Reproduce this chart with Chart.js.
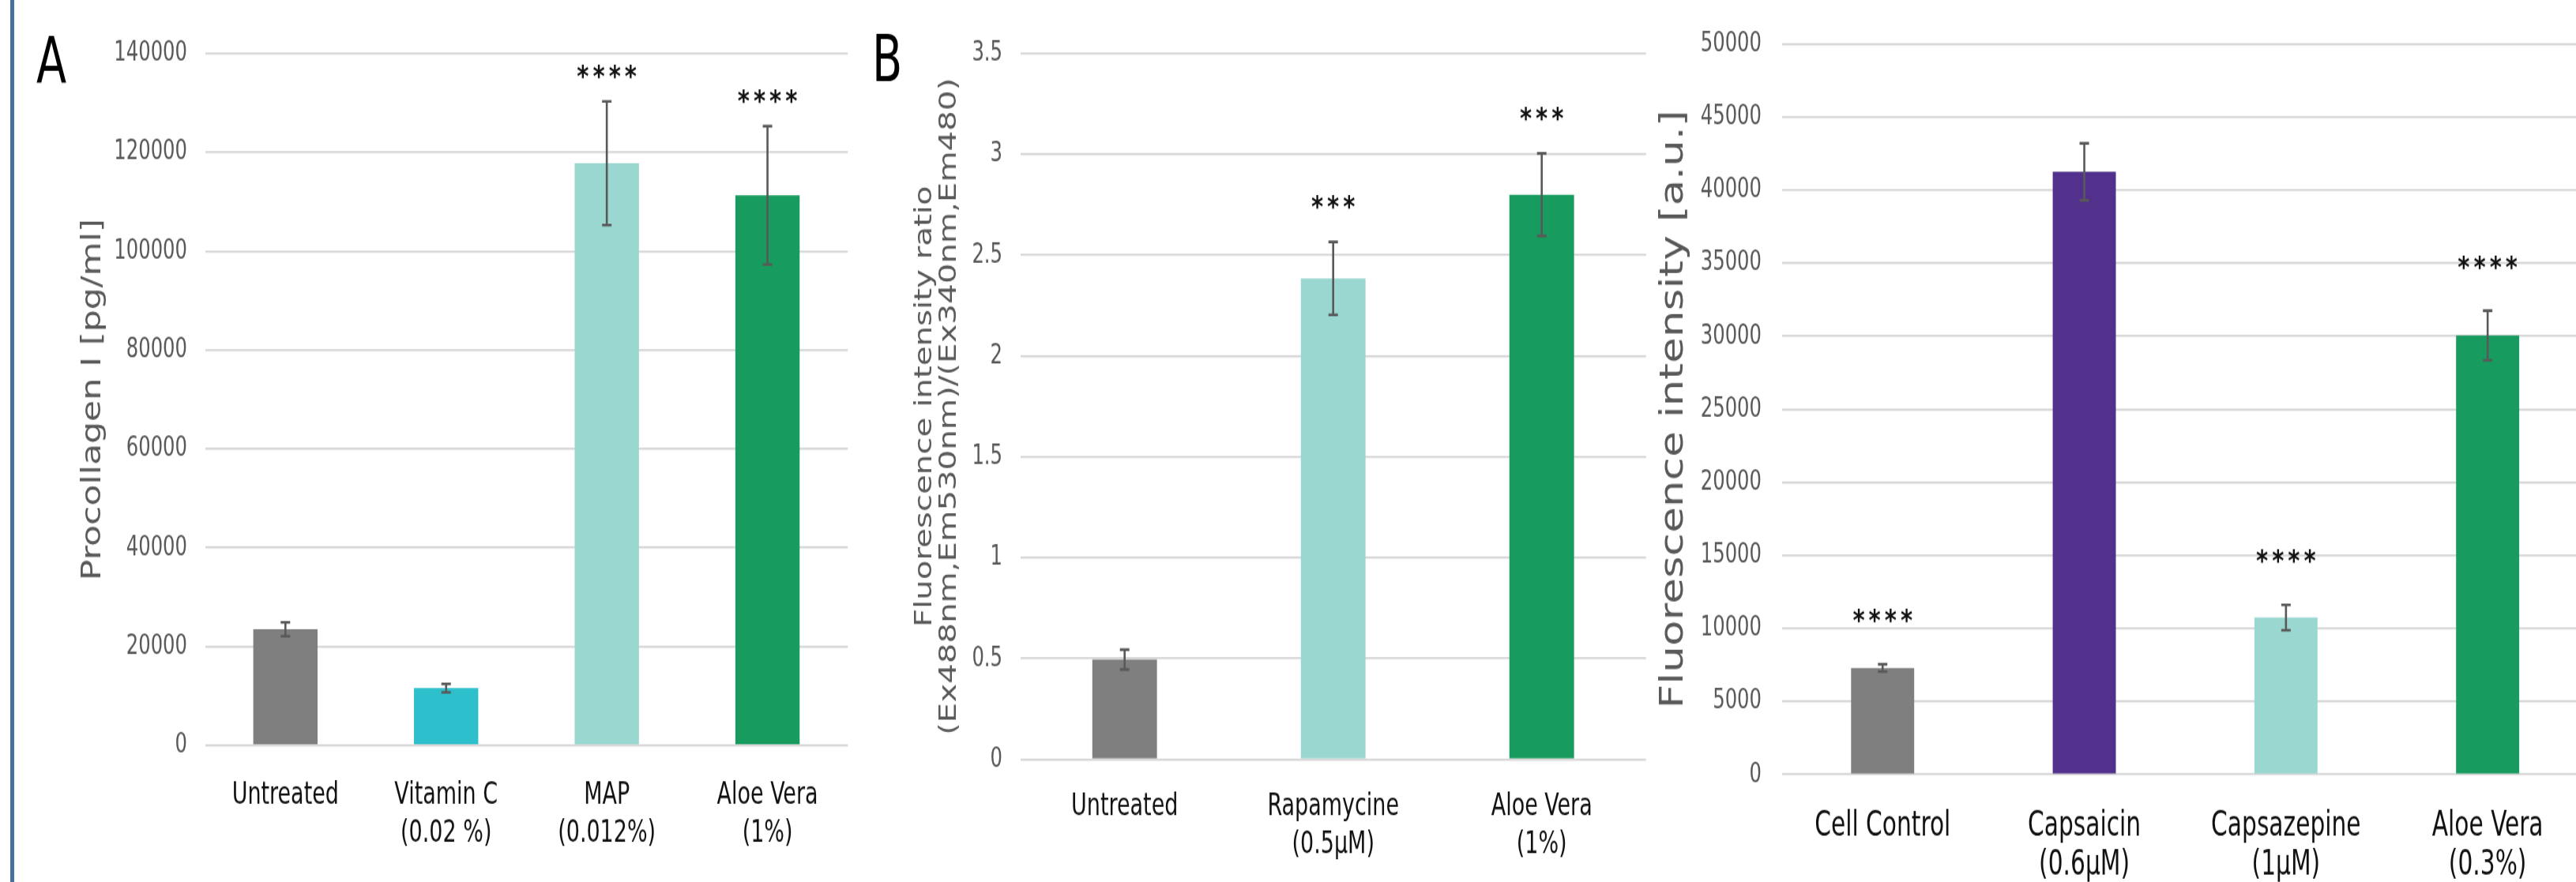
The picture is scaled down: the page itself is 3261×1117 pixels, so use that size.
<!DOCTYPE html>
<html>
<head>
<meta charset="utf-8">
<title>Procollagen, fluorescence ratio and fluorescence intensity</title>
<script src="https://cdn.jsdelivr.net/npm/chart.js@4.4.1/dist/chart.umd.min.js"></script>
<style>
  html, body { margin: 0; padding: 0; background: #fff; width: 3261px; height: 1117px; overflow: hidden; }
  /* the source figure is stretched vertically, so each panel is drawn flat and scaled up */
  .panel { position: absolute; top: 0; transform-origin: 0 0; transform: scaleY(1.3); }
  #edge { position: absolute; left: 13px; top: 0; width: 5px; height: 1117px; background: #46709d; }
</style>
</head>
<body>
<div id="edge"></div>
<div class="panel" style="left:0px"><canvas id="chartA" width="1100" height="860"></canvas></div>
<div class="panel" style="left:1100px"><canvas id="chartB" width="990" height="860"></canvas></div>
<div class="panel" style="left:2060px"><canvas id="chartC" width="1240" height="860"></canvas></div>
<script>
// panel A - procollagen I
const categoriesA = ['Untreated', ['Vitamin C', '(0.02 %)'], ['MAP', '(0.012%)'], ['Aloe Vera', '(1%)']];
const valuesA = [23500, 11600, 117800, 111300];
const errorsA = [1400, 850, 12500, 14000];
const starsA = ['', '', '****', '****'];

// panel B - fluorescence ratio
const categoriesB = ['Untreated', ['Rapamycine', '(0.5µM)'], ['Aloe Vera', '(1%)']];
const valuesB = [0.495, 2.385, 2.8];
const errorsB = [0.049, 0.181, 0.205];
const starsB = ['', '***', '***'];

// panel C - fluorescence intensity
const categoriesC = ['Cell Control', ['Capsaicin', '(0.6µM)'], ['Capsazepine', '(1µM)'], ['Aloe Vera', '(0.3%)']];
const valuesC = [7300, 41250, 10750, 30050];
const errorsC = [250, 1950, 870, 1700];
const starsC = ['****', '', '****', '****'];

const GRAY = '#7f7f7f', CYAN = '#2dbfcc', TEAL = '#9ad7d1', GREEN = '#179b5e', PURPLE = '#51318b';
const COND = "'DejaVu Sans Condensed', 'DejaVu Sans', sans-serif";
const SANS = "'DejaVu Sans', Verdana, sans-serif";

// draws error bars, significance stars and the panel letter
const errorBarPlugin = {
    id: 'errorBars',
    afterDatasetsDraw(chart, args, opts) {
        const ctx = chart.ctx;
        const y = chart.scales.y;
        const meta = chart.getDatasetMeta(0);
        const data = chart.data.datasets[0].data;
        ctx.save();
        meta.data.forEach((bar, i) => {
            const err = opts.errors[i];
            const top = y.getPixelForValue(data[i] + err);
            const bot = y.getPixelForValue(data[i] - err);
            ctx.strokeStyle = '#595959';
            ctx.lineWidth = 2.6;
            ctx.beginPath();
            ctx.moveTo(bar.x, top); ctx.lineTo(bar.x, bot);
            ctx.moveTo(bar.x - 6, top); ctx.lineTo(bar.x + 6, top);
            ctx.moveTo(bar.x - 6, bot); ctx.lineTo(bar.x + 6, bot);
            ctx.stroke();
            if (opts.stars[i]) {
                ctx.fillStyle = '#111';
                ctx.font = 'bold 29px ' + SANS;
                ctx.letterSpacing = '5px';
                ctx.textAlign = 'center';
                ctx.textBaseline = 'alphabetic';
                ctx.fillText(opts.stars[i], bar.x + 2.5, top - opts.gap + 15);
            }
        });
        ctx.restore();
    },
    afterDraw(chart, args, opts) {
        if (!opts.letter) return;
        const ctx = chart.ctx;
        ctx.save();
        ctx.fillStyle = '#000';
        ctx.font = '62px ' + COND;
        ctx.textBaseline = 'alphabetic';
        ctx.fillText(opts.letter, opts.letterX, opts.letterY);
        ctx.restore();
    }
};

function makeChart(id, cfg) {
    return new Chart(document.getElementById(id), {
        type: 'bar',
        data: {
            labels: cfg.labels,
            datasets: [{
                data: cfg.values,
                backgroundColor: cfg.colors,
                barPercentage: cfg.barPct,
                categoryPercentage: 1
            }]
        },
        options: {
            responsive: false,
            animation: false,
            layout: { padding: { left: 0, right: cfg.padRight, top: cfg.padTop, bottom: 0 } },
            plugins: {
                legend: { display: false },
                tooltip: { enabled: false },
                errorBars: {
                    errors: cfg.errors, stars: cfg.stars, gap: cfg.starGap,
                    letter: cfg.letter, letterX: cfg.letterX, letterY: cfg.letterY
                }
            },
            scales: {
                x: {
                    grid: { display: false },
                    border: { display: false },
                    ticks: {
                        color: '#111',
                        font: { family: COND, size: cfg.catSize, lineHeight: cfg.catLH },
                        padding: cfg.catPad,
                        maxRotation: 0,
                        autoSkip: false
                    },
                    afterFit: s => { s.height = cfg.xHeight; }
                },
                y: {
                    min: 0,
                    max: cfg.max,
                    ticks: {
                        stepSize: cfg.step,
                        color: '#595959',
                        font: { family: COND, size: 27 },
                        padding: cfg.tickPad,
                        callback: v => String(v)
                    },
                    grid: { color: '#d9d9d9', lineWidth: 2.3, drawTicks: false },
                    border: { display: false },
                    title: {
                        display: true,
                        text: cfg.title,
                        color: '#595959',
                        font: { family: SANS, size: cfg.titleSize, lineHeight: cfg.titleLH },
                        padding: { top: cfg.titlePad, bottom: 0 }
                    },
                    afterFit: s => { s.width = cfg.yWidth; }
                }
            }
        },
        plugins: [errorBarPlugin]
    });
}

makeChart('chartA', {
    labels: categoriesA, values: valuesA, errors: errorsA, stars: starsA,
    colors: [GRAY, CYAN, TEAL, GREEN], barPct: 0.4,
    max: 140000, step: 20000,
    title: 'Procollagen I [pg/ml]', titleSize: 34, titleLH: 1.2, titlePad: 97.5,
    padTop: 52.1, padRight: 26.7, yWidth: 259.6, xHeight: 133.8,
    tickPad: 22.6, catSize: 30, catLH: 1.25, catPad: 22,
    starGap: 30, letter: 'A', letterX: 46, letterY: 80.8
});

makeChart('chartB', {
    labels: categoriesB, values: valuesB, errors: errorsB, stars: starsB,
    colors: [GRAY, TEAL, GREEN], barPct: 0.31,
    max: 3.5, step: 0.5,
    title: ['Fluorescence intensity ratio', '(Ex488nm,Em530nm)/(Ex340nm,Em480)'],
    titleSize: 31, titleLH: 1.0, titlePad: 55.9,
    padTop: 52.1, padRight: 6.3, yWidth: 191.7, xHeight: 120.2,
    tickPad: 22.7, catSize: 30, catLH: 1.25, catPad: 19.6,
    starGap: 39.2, letter: 'B', letterX: 4, letterY: 78.5
});

makeChart('chartC', {
    labels: categoriesC, values: valuesC, errors: errorsC, stars: starsC,
    colors: [GRAY, PURPLE, TEAL, GREEN], barPct: 0.313,
    max: 50000, step: 5000,
    title: 'Fluorescence intensity [a.u.]', titleSize: 41, titleLH: 1.2, titlePad: 35.1,
    padTop: 42.8, padRight: 23.2, yWidth: 195.6, xHeight: 105.4,
    tickPad: 25.6, catSize: 33, catLH: 1.16, catPad: 23.7,
    starGap: 47.7
});
</script>
</body>
</html>
